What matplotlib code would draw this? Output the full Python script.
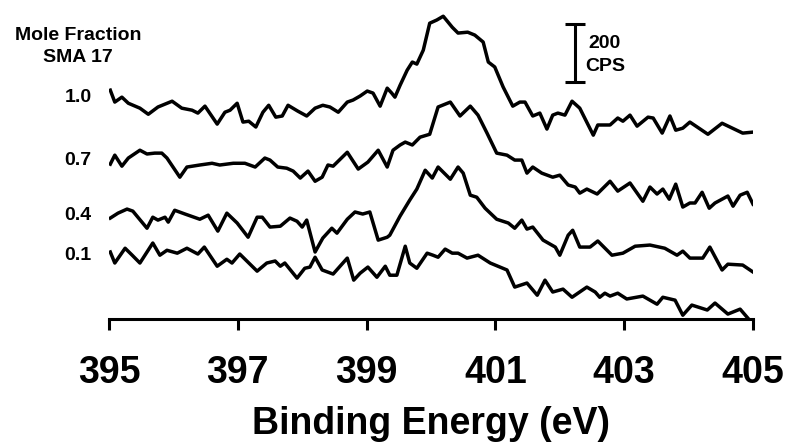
import matplotlib
matplotlib.use("Agg")
import matplotlib.pyplot as plt

plt.rcParams['font.family'] = ['Liberation Sans', 'DejaVu Sans']
plt.rcParams['font.weight'] = 'bold'

# N 1s spectra, binding energy (eV) and intensity (CPS, baseline removed)
fractions = ['0.1', '0.4', '0.7', '1.0']
offsets = [0, 150, 350, 500]  # vertical stacking offsets, CPS

e_01 = [395.02, 395.09, 395.25, 395.36, 395.48, 395.68, 395.79, 395.90, 396.06, 396.21,
        396.38, 396.48, 396.68, 396.83, 396.91, 397.03, 397.30, 397.45, 397.58, 397.66,
        397.73, 397.92, 398.04, 398.12, 398.20, 398.31, 398.48, 398.70, 398.80, 398.90,
        399.02, 399.16, 399.29, 399.36, 399.47, 399.60, 399.67, 399.78, 399.94, 400.03,
        400.11, 400.22, 400.33, 400.42, 400.56, 400.73, 400.92, 401.18, 401.30, 401.49,
        401.65, 401.77, 401.89, 402.05, 402.19, 402.42, 402.55, 402.62, 402.70, 402.78,
        402.90, 403.04, 403.29, 403.51, 403.60, 403.79, 403.91, 404.05, 404.29, 404.41,
        404.61, 404.80, 404.92]
i_01 = [228, 190, 241, 217, 190, 259, 217, 234, 224, 241,
        221, 245, 179, 203, 190, 221, 162, 190, 197, 179,
        190, 138, 172, 176, 210, 166, 152, 207, 131, 155,
        176, 141, 179, 148, 148, 248, 190, 172, 224, 217,
        210, 238, 224, 224, 207, 217, 190, 166, 107, 121,
        79, 131, 90, 100, 72, 107, 90, 72, 86, 76,
        86, 66, 76, 48, 72, 62, 10, 45, 28, 52,
        14, 31, 0]

e_04 = [395.02, 395.14, 395.28, 395.37, 395.59, 395.68, 395.76, 395.87, 395.92, 396.02,
        396.18, 396.41, 396.54, 396.69, 396.83, 396.99, 397.16, 397.30, 397.38, 397.50,
        397.66, 397.81, 397.92, 398.00, 398.07, 398.20, 398.32, 398.46, 398.54, 398.70,
        398.82, 398.94, 399.05, 399.18, 399.32, 399.36, 399.52, 399.67, 399.78, 399.91,
        400.02, 400.11, 400.30, 400.42, 400.50, 400.61, 400.71, 400.84, 401.02, 401.20,
        401.30, 401.41, 401.49, 401.58, 401.74, 401.93, 402.00, 402.13, 402.20, 402.31,
        402.47, 402.59, 402.81, 402.98, 403.17, 403.40, 403.63, 403.82, 403.91, 404.02,
        404.22, 404.33, 404.52, 404.61, 404.84, 405.00]
i_04 = [195, 212, 226, 219, 160, 198, 188, 198, 181, 222,
        209, 191, 205, 150, 212, 178, 129, 198, 198, 164,
        167, 195, 184, 164, 188, 78, 126, 160, 143, 191,
        216, 209, 216, 119, 129, 136, 202, 257, 295, 360,
        333, 371, 329, 371, 350, 274, 267, 229, 191, 178,
        160, 188, 157, 164, 119, 95, 67, 136, 153, 95,
        95, 116, 67, 74, 98, 102, 91, 67, 81, 57,
        57, 95, 16, 36, 33, 9]

e_07 = [395.02, 395.09, 395.20, 395.30, 395.48, 395.59, 395.71, 395.82, 395.90, 396.10,
        396.21, 396.41, 396.60, 396.72, 396.93, 397.11, 397.27, 397.42, 397.50, 397.62,
        397.76, 397.86, 397.97, 398.09, 398.20, 398.31, 398.40, 398.48, 398.70, 398.87,
        399.02, 399.18, 399.32, 399.41, 399.52, 399.60, 399.71, 399.83, 399.98, 400.11,
        400.30, 400.45, 400.61, 400.73, 400.87, 401.02, 401.18, 401.30, 401.41, 401.49,
        401.58, 401.72, 401.89, 402.00, 402.13, 402.24, 402.31, 402.42, 402.58, 402.78,
        402.90, 403.09, 403.29, 403.40, 403.51, 403.60, 403.70, 403.80, 403.91, 404.02,
        404.10, 404.21, 404.32, 404.41, 404.61, 404.69, 404.80, 404.91, 405.00]
i_07 = [181, 212, 174, 202, 229, 216, 219, 219, 202, 136,
        171, 178, 184, 178, 184, 184, 171, 202, 195, 171,
        167, 157, 133, 157, 122, 136, 178, 174, 222, 164,
        188, 229, 171, 229, 247, 257, 247, 274, 284, 378,
        395, 347, 381, 350, 288, 219, 212, 195, 195, 150,
        171, 150, 136, 143, 109, 102, 81, 95, 78, 122,
        88, 116, 53, 102, 78, 95, 60, 112, 33, 47,
        47, 84, 29, 47, 71, 36, 74, 84, 43]

e_10 = [395.02, 395.09, 395.20, 395.30, 395.48, 395.61, 395.76, 395.98, 396.13, 396.29,
        396.38, 396.49, 396.68, 396.80, 396.88, 396.99, 397.08, 397.17, 397.28, 397.39,
        397.48, 397.59, 397.69, 397.78, 397.93, 398.07, 398.20, 398.32, 398.43, 398.56,
        398.70, 398.79, 398.90, 399.01, 399.10, 399.21, 399.32, 399.39, 399.44, 399.52,
        399.63, 399.71, 399.78, 399.88, 399.98, 400.09, 400.19, 400.33, 400.42, 400.57,
        400.68, 400.81, 400.89, 400.99, 401.12, 401.27, 401.38, 401.46, 401.58, 401.69,
        401.80, 401.89, 401.97, 402.08, 402.19, 402.31, 402.52, 402.59, 402.78, 402.90,
        402.98, 403.09, 403.20, 403.37, 403.45, 403.59, 403.71, 403.80, 403.91, 404.02,
        404.30, 404.52, 404.84, 404.98]
i_10 = [286, 245, 262, 241, 224, 203, 228, 248, 224, 217,
        207, 231, 169, 210, 217, 241, 176, 179, 159, 210,
        234, 193, 197, 234, 214, 197, 224, 234, 228, 210,
        245, 252, 266, 283, 276, 231, 293, 276, 262, 303,
        355, 383, 376, 424, 517, 528, 541, 503, 483, 486,
        476, 452, 383, 366, 297, 231, 245, 245, 197, 207,
        152, 200, 207, 200, 248, 224, 131, 166, 166, 190,
        179, 200, 162, 193, 190, 138, 197, 148, 155, 176,
        134, 172, 138, 141]

energies = [e_01, e_04, e_07, e_10]
intensities = [i_01, i_04, i_07, i_10]

W, H = 788, 447
fig = plt.figure(figsize=(W / 100, H / 100), dpi=100)
ax = fig.add_axes([109 / W, (H - 319) / H, (753 - 109) / W, 319 / H])

for e, i, off in zip(energies, intensities, offsets):
    ax.plot(e, [v + off for v in i], color='black', lw=2.5, solid_joinstyle='round')

ax.set_xlim(395, 405)
ax.set_ylim(-3, 1097)
ax.set_xticks([395, 397, 399, 401, 403, 405])
ax.tick_params(axis='x', direction='out', length=8, width=2.2, labelsize=27, pad=18)
ax.tick_params(axis='y', left=False, labelleft=False)
for s in ['left', 'right', 'top']:
    ax.spines[s].set_visible(False)
ax.spines['bottom'].set_linewidth(2.2)
ax.set_xlabel('Binding Energy (eV)', fontsize=27, fontweight='bold', labelpad=11)

# scale bar: 200 CPS
ax.errorbar([402.24], [914], yerr=[100], color='black', elinewidth=2.2,
            capsize=7.5, capthick=2.2, fmt='none')
ax.text(402.44, 948, '200', fontsize=14, fontweight='bold', va='center', ha='left')
ax.text(402.40, 869, 'CPS', fontsize=14, fontweight='bold', va='center', ha='left')

# trace labels
fig.text(78 / W, 1 - 36 / H, 'Mole Fraction', fontsize=14, fontweight='bold',
         ha='center', va='center')
fig.text(78 / W, 1 - 57 / H, 'SMA 17', fontsize=14, fontweight='bold',
         ha='center', va='center')
label_y = {'1.0': 97, '0.7': 160, '0.4': 216, '0.1': 255}
for f in fractions:
    fig.text(78 / W, 1 - label_y[f] / H, f, fontsize=14, fontweight='bold',
             ha='center', va='center')

fig.savefig('out.png', dpi=100)
